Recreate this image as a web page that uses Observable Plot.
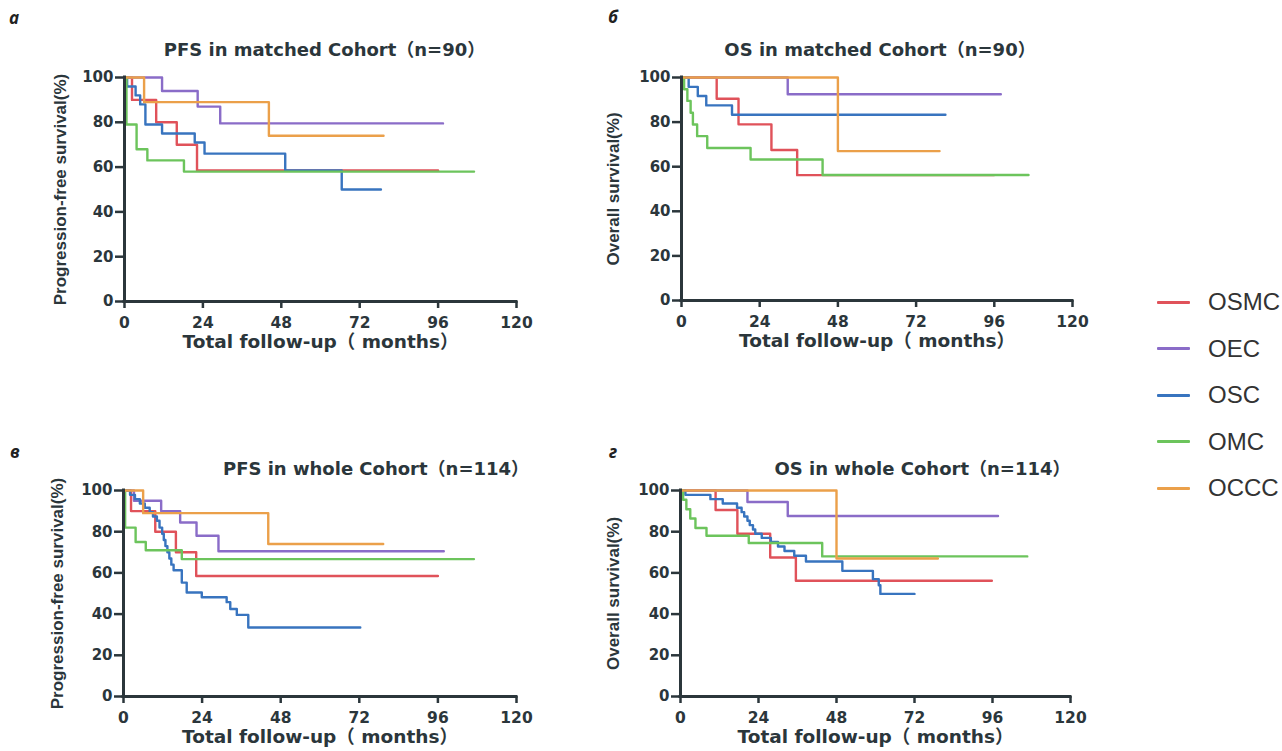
<!DOCTYPE html>
<html><head><meta charset="utf-8">
<script src="https://cdn.jsdelivr.net/npm/d3@7"></script>
<script src="https://cdn.jsdelivr.net/npm/@observablehq/plot@0.6"></script>
<style>
body{margin:0;background:#fff;width:1282px;height:751px;position:relative;overflow:hidden;}
.panel{position:absolute;}
.letter{position:absolute;font-family:"Open Sans","Noto Sans",sans-serif;font-style:italic;font-weight:700;font-size:17px;line-height:17px;color:#222;}
.lg-item{position:absolute;display:flex;align-items:center;height:30px;}
.lg-line{width:33px;height:3px;border-radius:1px;}
.lg-text{font-family:"Liberation Sans",Arial,sans-serif;font-size:24px;color:#333;margin-left:18px;}
</style></head><body>
<script>
// ---- categories, ticks, labels ----
const groups = ["OSMC", "OEC", "OSC", "OMC", "OCCC"];
const palette = ["#e0525a", "#8a6cc8", "#3874bf", "#6cc45c", "#eba04a"];
const xTicks = [0, 24, 48, 72, 96, 120];
const yTicks = [0, 20, 40, 60, 80, 100];
const panelLetters = ["а", "б", "в", "г"];
const titles = ["PFS in matched Cohort（n=90）", "OS in matched Cohort（n=90）", "PFS in whole Cohort（n=114）", "OS in whole Cohort（n=114）"];
const xLabel = "Total follow-up（ months）";
const yLabels = ["Progression-free survival(%)", "Overall survival(%)", "Progression-free survival(%)", "Overall survival(%)"];

// ---- Kaplan–Meier steps: [month, survival %] ----
const pfs_OSMC = [[0,100],[2.3,90],[9.7,80],[16,70],[22.2,58.5],[96,58.5]];
const pfs_OCCC = [[0,100],[6,89],[44.2,74],[79.3,74]];
const os_OSMC = [[0,100],[10.8,90.5],[17.5,79],[27.6,67.5],[35.5,56.2],[95.8,56.2]];
const os_OCCC = [[0,100],[48,67],[79.2,67]];

const pfsMatched_OEC = [[0,100],[11.5,94],[22.4,87],[29.3,79.5],[97.5,79.5]];
const pfsMatched_OSC = [[0,100],[0.8,96],[3.4,92],[4.8,88],[6.4,79],[11.5,75],[21.5,71],[24.5,66],[49.2,58.5],[66.5,50],[78.5,50]];
const pfsMatched_OMC = [[0,100],[0.6,79],[3.7,68],[7,63],[18.2,58],[107,58]];

const osMatched_OEC = [[0,100],[32.6,92.5],[98,92.5]];
const osMatched_OSC = [[0,100],[2.2,95.8],[5,91.7],[7.6,87.5],[15.5,83.3],[81,83.3]];
const osMatched_OMC = [[0,100],[0.8,94.7],[1.8,89.5],[2.8,84.2],[3.5,78.9],[4.8,73.7],[7.9,68.4],[21.2,63.2],[43.3,56.3],[106.5,56.3]];

const pfsWhole_OEC = [[0,100],[3.2,95],[11.5,90],[17.3,84.5],[22.3,78],[29,70.5],[97.8,70.5]];
const pfsWhole_OSC = [[0,100],[2,97.9],[3.5,95.8],[5,93.7],[6.5,91.6],[8,89.5],[9,87.4],[10.2,85.3],[11,82],[11.8,79],[12.3,76],[12.8,73],[13.4,70],[14,67],[14.6,64],[15.3,61.3],[17.8,55.3],[19.3,50.5],[23.9,48.2],[31.5,45.8],[32.6,42.5],[34.6,39.6],[38.1,33.5],[72.3,33.5]];
const pfsWhole_OMC = [[0,100],[0.5,82],[3.7,75],[6.8,71],[17.8,66.7],[107,66.7]];

const osWhole_OEC = [[0,100],[20.6,94.4],[33,87.6],[97.7,87.6]];
const osWhole_OSC = [[0,100],[1.5,97.9],[9.2,95.8],[13,93.7],[17.4,91.6],[18.8,89.5],[19.6,87.4],[20.6,85.3],[21.3,83.2],[22.3,81.1],[23,79],[25,77],[27.8,75],[30,72.8],[32,70.6],[35,68.3],[38.6,65.5],[49.8,61],[59.2,57],[61,54],[61.5,49.8],[72,49.8]];
const osWhole_OMC = [[0,100],[0.8,95.5],[1.8,90.9],[3,86.4],[4.6,81.8],[8,78],[21,74.5],[43.6,68],[106.7,68]];

const panelSeries = [
  {OSMC: pfs_OSMC, OEC: pfsMatched_OEC, OSC: pfsMatched_OSC, OMC: pfsMatched_OMC, OCCC: pfs_OCCC},
  {OSMC: os_OSMC, OEC: osMatched_OEC, OSC: osMatched_OSC, OMC: osMatched_OMC, OCCC: os_OCCC},
  {OSMC: pfs_OSMC, OEC: pfsWhole_OEC, OSC: pfsWhole_OSC, OMC: pfsWhole_OMC, OCCC: pfs_OCCC},
  {OSMC: os_OSMC, OEC: osWhole_OEC, OSC: osWhole_OSC, OMC: osWhole_OMC, OCCC: os_OCCC}
];

// ---- layout (styling only) ----
const layout = [
  {left:0,   top:0,   w:560, h:370, ml:124, mr:44, mt:77, mb:69, tdx:4,  tdy:-34, ydx:-64},
  {left:560, top:0,   w:540, h:370, ml:121, mr:28, mt:77, mb:70, tdx:3,  tdy:-34, ydx:-68},
  {left:0,   top:400, w:560, h:351, ml:123, mr:44, mt:90, mb:55, tdx:56, tdy:-28, ydx:-66},
  {left:560, top:400, w:540, h:351, ml:120, mr:30, mt:90, mb:55, tdx:47, tdy:-28, ydx:-67}
];
const letterPos = [[9,9],[608,8],[10,443],[609,443]];
const ink = "#2b363b";

layout.forEach((L, i) => {
  const rows = groups.flatMap(g => panelSeries[i][g].map(([t, s]) => ({group: g, t, s})));
  const chart = Plot.plot({
    width: L.w, height: L.h,
    marginLeft: L.ml, marginRight: L.mr, marginTop: L.mt, marginBottom: L.mb,
    style: {background: "#fff", color: ink, fontFamily: '"DejaVu Sans","Noto Sans CJK SC",sans-serif', fontWeight: "bold", fontSize: "15px"},
    x: {domain: [0, 120]},
    y: {domain: [0, 100]},
    color: {domain: groups, range: palette},
    marks: [
      Plot.line(rows, {x: "t", y: "s", z: "group", stroke: "group", curve: "step-after", strokeWidth: 2.4}),
      Plot.axisX({ticks: xTicks, tickSize: 7, tickPadding: 8, label: null, strokeWidth: 2.5, fontSize: 15.5}),
      Plot.axisY({ticks: yTicks, tickSize: 9, tickPadding: 2, label: null, strokeWidth: 2.5, fontSize: 15}),
      Plot.ruleX([0], {stroke: ink, strokeWidth: 3, strokeLinecap: "square"}),
      Plot.ruleY([0], {stroke: ink, strokeWidth: 3, strokeLinecap: "square"}),
      Plot.text([titles[i]], {frameAnchor: "top", textAnchor: "middle", dx: L.tdx, dy: L.tdy, fontSize: 18, fontWeight: "bold"}),
      Plot.text([xLabel], {frameAnchor: "bottom", textAnchor: "middle", dy: 46, fontSize: 18.5, fontWeight: "bold"}),
      Plot.text([yLabels[i]], {frameAnchor: "left", textAnchor: "middle", lineAnchor: "middle", dx: L.ydx, rotate: -90, fontSize: 17, fontWeight: "bold", fontFamily: '"Liberation Sans",Arial,sans-serif'})
    ]
  });
  const div = document.createElement("div");
  div.className = "panel";
  div.style.left = L.left + "px";
  div.style.top = L.top + "px";
  div.appendChild(chart);
  document.body.appendChild(div);

  const lt = document.createElement("div");
  lt.className = "letter";
  lt.textContent = panelLetters[i];
  lt.style.left = letterPos[i][0] + "px";
  lt.style.top = letterPos[i][1] + "px";
  document.body.appendChild(lt);
});

// ---- legend ----
groups.forEach((g, i) => {
  const item = document.createElement("div");
  item.className = "lg-item";
  item.style.left = "1157px";
  item.style.top = (302 + i * 46.6 - 15) + "px";
  const line = document.createElement("div");
  line.className = "lg-line";
  line.style.background = palette[i];
  const txt = document.createElement("span");
  txt.className = "lg-text";
  txt.textContent = g;
  item.appendChild(line);
  item.appendChild(txt);
  document.body.appendChild(item);
});
</script>
</body></html>
